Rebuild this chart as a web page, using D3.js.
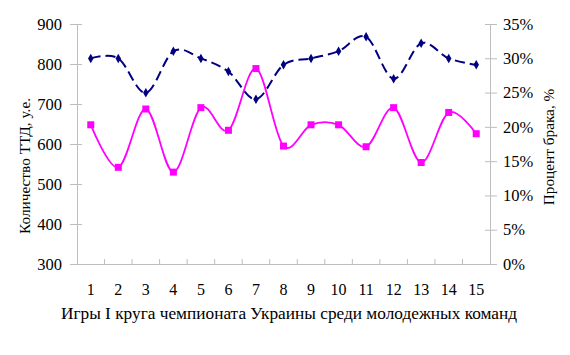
<!DOCTYPE html>
<html>
<head>
<meta charset="utf-8">
<script src="https://cdn.jsdelivr.net/npm/d3@7"></script>
<style>
html,body{margin:0;padding:0;background:#fff;}
svg{display:block;}
text{font-family:"Liberation Serif","Times New Roman",serif;fill:#000;}
</style>
</head>
<body>
<svg id="chart" width="570" height="355"></svg>
<script>
const categories = ["1","2","3","4","5","6","7","8","9","10","11","12","13","14","15"];
const quantityTTD = [814, 814, 728, 832, 814, 781, 712, 798, 814, 832, 868, 763, 852, 814, 798];
const defectPercent = [20.3, 14.1, 22.6, 13.4, 22.8, 19.5, 28.5, 17.2, 20.3, 20.3, 17.1, 22.8, 14.8, 22.1, 19.0];
const leftTicks = [300, 400, 500, 600, 700, 800, 900];
const rightTicks = [0, 5, 10, 15, 20, 25, 30, 35];
const xTitle = "Игры I круга чемпионата Украины среди молодежных команд";
const yLeftTitle = "Количество ТТД, у.е.";
const yRightTitle = "Процент брака, %";

const svg = d3.select("#chart");
const L = 77, R = 490, T = 24, B = 264;
const axisColor = "#bdbdbd";
const tickFont = "16.5px";

const x = d3.scaleBand().domain(categories).range([L, R]);
const yL = d3.scaleLinear().domain([300, 900]).range([B, T]);
const yR = d3.scaleLinear().domain([0, 35]).range([B, T]);

// Left axis
const gL = svg.append("g").attr("transform", `translate(${L},0)`)
  .call(d3.axisLeft(yL).tickValues(leftTicks).tickSize(0).tickPadding(15));
gL.select(".domain").attr("stroke", axisColor);
gL.selectAll(".tick").append("line").attr("x1", -7).attr("x2", 5).attr("stroke", axisColor);
gL.selectAll(".tick text").style("font-size", tickFont).style("font-family", "Liberation Serif");

// Right axis
const gR = svg.append("g").attr("transform", `translate(${R},0)`)
  .call(d3.axisRight(yR).tickValues(rightTicks).tickFormat(d => d + "%").tickSize(0).tickPadding(13));
gR.select(".domain").attr("stroke", axisColor);
gR.selectAll(".tick").append("line").attr("x1", -5).attr("x2", 7).attr("stroke", axisColor);
gR.selectAll(".tick text").style("font-size", tickFont).style("font-family", "Liberation Serif");

// Bottom axis
const gB = svg.append("g").attr("transform", `translate(0,${B})`)
  .call(d3.axisBottom(x).tickSize(0).tickPadding(20));
gB.select(".domain").attr("stroke", axisColor);
gB.selectAll(".tick text").style("font-size", "16px").style("font-family", "Liberation Serif");
const bounds = categories.slice(1).map(c => x(c));
gB.selectAll(".bnd").data(bounds).enter().append("line")
  .attr("x1", d => d).attr("x2", d => d).attr("y1", 0).attr("y2", -5).attr("stroke", axisColor);

// Lines
const cx = (d, i) => x(categories[i]) + x.bandwidth() / 2;
const lineL = d3.line().x(cx).y(d => yL(d)).curve(d3.curveCardinal.tension(0));
const lineR = d3.line().x(cx).y(d => yR(d)).curve(d3.curveCardinal.tension(0));

svg.append("path").datum(defectPercent).attr("d", lineR)
  .attr("fill", "none").attr("stroke", "#ff00ff").attr("stroke-width", 1.8);
svg.selectAll(".sq").data(defectPercent).enter().append("rect")
  .attr("x", (d, i) => cx(d, i) - 3.5).attr("y", d => yR(d) - 3.5)
  .attr("width", 7).attr("height", 7).attr("fill", "#ff00ff");

svg.append("path").datum(quantityTTD).attr("d", lineL)
  .attr("fill", "none").attr("stroke", "#000080").attr("stroke-width", 2)
  .attr("stroke-dasharray", "10,5");
svg.selectAll(".dm").data(quantityTTD).enter().append("path")
  .attr("d", d3.symbol().type(d3.symbolDiamond).size(26))
  .attr("transform", (d, i) => `translate(${cx(d, i)},${yL(d)})`)
  .attr("fill", "#000080");

// Titles
svg.append("text").attr("x", 289).attr("y", 319).attr("text-anchor", "middle")
  .style("font-size", "17.3px").text(xTitle);
svg.append("text").attr("transform", `translate(30,166) rotate(-90)`)
  .attr("text-anchor", "middle").style("font-size", "15.3px").text(yLeftTitle);
svg.append("text").attr("transform", `translate(554,147) rotate(-90)`)
  .attr("text-anchor", "middle").style("font-size", "15.3px").text(yRightTitle);
</script>
</body>
</html>
